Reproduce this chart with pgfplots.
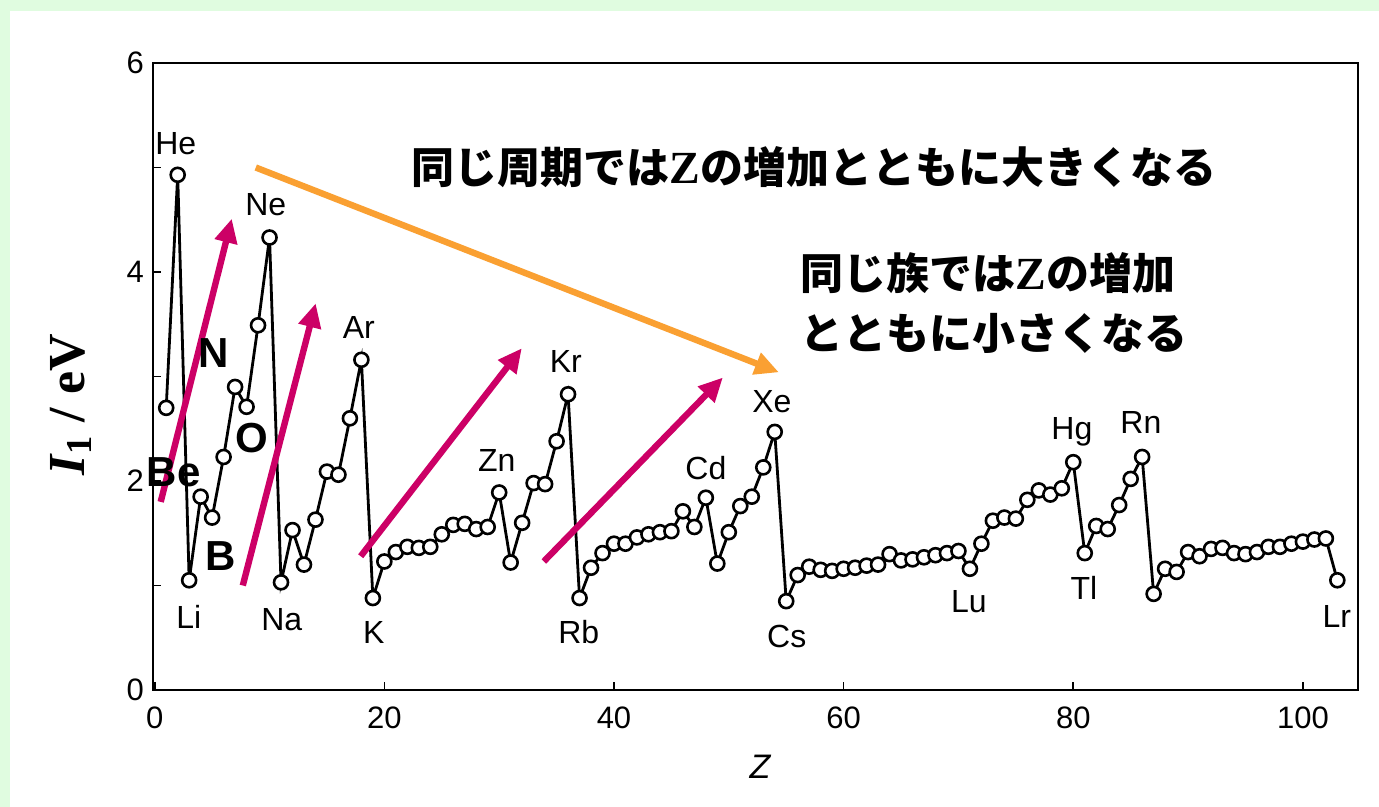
\documentclass[border=0pt]{standalone}
\usepackage{fontspec}
\setmainfont{Liberation Sans}
\newfontfamily\jp{Noto Sans CJK JP}
\newfontfamily\serif{Liberation Serif}
\usepackage{pgfplots}
\pgfplotsset{compat=1.18}
\usetikzlibrary{arrows.meta}
\definecolor{bggreen}{RGB}{224,252,224}
\definecolor{mag}{RGB}{204,0,102}
\definecolor{org}{RGB}{250,160,50}
\begin{document}
\begin{tikzpicture}
\fill[bggreen] (0,0) rectangle (689.5pt,403.5pt);
\fill[white] (5pt,0) rectangle (689.5pt,398pt);
\begin{axis}[
  at={(76.5pt,58.5pt)}, anchor=south west,
  scale only axis, width=602.5pt, height=313.5pt,
  xmin=-0.15, xmax=104.8, ymin=0, ymax=6,
  xtick={0,20,40,60,80,100},
  ytick={0,1,2,3,4,5,6}, yticklabels={0,,2,,4,,6},
  tick pos=left, tick align=inside, major tick length=4pt,
  axis line style={line width=0.8pt},
  every tick/.style={black, line width=0.8pt},
  tick label style={font=\fontsize{15.5}{18}\selectfont},
  /pgf/number format/assume math mode=true,
  xticklabel style={yshift=-5pt},
  yticklabel style={xshift=-1pt},
  clip=false,
]
\addplot[black, line width=1.4pt, mark=*, mark size=3.5pt,
  mark options={fill=white, draw=black, line width=1.3pt}] coordinates {
(1,2.70)(2,4.93)(3,1.05)(4,1.85)(5,1.65)(6,2.23)(7,2.90)(8,2.71)(9,3.49)(10,4.33)
(11,1.03)(12,1.53)(13,1.20)(14,1.63)(15,2.09)(16,2.06)(17,2.60)(18,3.16)
(19,0.88)(20,1.23)(21,1.32)(22,1.37)(23,1.36)(24,1.37)(25,1.49)(26,1.58)(27,1.59)(28,1.54)(29,1.56)(30,1.89)
(31,1.22)(32,1.60)(33,1.98)(34,1.97)(35,2.38)(36,2.83)
(37,0.88)(38,1.17)(39,1.31)(40,1.40)(41,1.40)(42,1.46)(43,1.49)(44,1.51)(45,1.52)(46,1.71)(47,1.56)(48,1.84)
(49,1.21)(50,1.51)(51,1.76)(52,1.85)(53,2.13)(54,2.47)
(55,0.85)(56,1.10)(57,1.18)(58,1.15)(59,1.14)(60,1.16)(61,1.17)(62,1.19)(63,1.20)(64,1.30)(65,1.24)(66,1.25)(67,1.27)(68,1.29)(69,1.31)(70,1.33)(71,1.16)
(72,1.40)(73,1.62)(74,1.65)(75,1.64)(76,1.82)(77,1.91)(78,1.87)(79,1.93)(80,2.18)
(81,1.31)(82,1.57)(83,1.54)(84,1.77)(85,2.02)(86,2.23)
(87,0.92)(88,1.16)(89,1.13)(90,1.32)(91,1.28)(92,1.35)(93,1.36)(94,1.31)(95,1.30)(96,1.32)(97,1.37)(98,1.37)(99,1.40)(100,1.42)(101,1.44)(102,1.45)(103,1.05)
};
% element labels
\begin{scope}[every node/.style={font=\fontsize{16}{19}\selectfont, inner sep=0pt}]
\node at (axis cs:1.83,5.23) {He};
\node at (axis cs:9.67,4.64) {Ne};
\node at (axis cs:17.77,3.47) {Ar};
\node at (axis cs:35.80,3.14) {Kr};
\node at (axis cs:29.79,2.20) {Zn};
\node at (axis cs:53.75,2.76) {Xe};
\node at (axis cs:48.00,2.12) {Cd};
\node at (axis cs:79.88,2.47) {Hg};
\node at (axis cs:85.89,2.56) {Rn};
\node at (axis cs:2.96,0.70) {Li};
\node at (axis cs:11.06,0.67) {Na};
\node at (axis cs:19.08,0.55) {K};
\node at (axis cs:36.93,0.55) {Rb};
\node at (axis cs:55.05,0.51) {Cs};
\node at (axis cs:70.91,0.85) {Lu};
\node at (axis cs:80.92,0.98) {Tl};
\node at (axis cs:102.96,0.70) {Lr};
\end{scope}
% arrows
\draw[mag, line width=3.2pt, -{Triangle[length=12pt,width=11pt]}] (axis cs:0.52,1.80) -- (axis cs:6.71,4.51);
\draw[mag, line width=3.2pt, -{Triangle[length=12pt,width=11pt]}] (axis cs:7.67,1.00) -- (axis cs:14.02,3.70);
\draw[mag, line width=3.2pt, -{Triangle[length=12pt,width=11pt]}] (axis cs:17.94,1.28) -- (axis cs:31.97,3.27);
\draw[mag, line width=3.2pt, -{Triangle[length=12pt,width=11pt]}] (axis cs:33.89,1.23) -- (axis cs:49.48,2.99);
\draw[org, line width=3.2pt, -{Triangle[length=12pt,width=11pt]}] (axis cs:8.80,5.00) -- (axis cs:54.36,3.04);
% bold labels
\begin{scope}[every node/.style={font=\bfseries\fontsize{21}{24}\selectfont, inner sep=0pt}]
\node at (axis cs:5.14,3.22) {N};
\node at (axis cs:8.45,2.41) {O};
\node at (axis cs:1.66,2.08) {Be};
\node at (axis cs:5.75,1.28) {B};
\end{scope}
\end{axis}
% Japanese annotations
\node[font=\jp\bfseries\fontsize{21.5}{25}\selectfont, inner sep=0pt] at (407pt,320pt) {同じ周期では{\serif\bfseries\fontsize{23}{25}\selectfont Z}の増加とともに大きくなる};
\node[font=\jp\bfseries\fontsize{21.5}{25}\selectfont, inner sep=0pt, anchor=west] at (400pt,267pt) {同じ族では{\serif\bfseries\fontsize{23}{25}\selectfont Z}の増加};
\node[font=\jp\bfseries\fontsize{21.5}{25}\selectfont, inner sep=0pt, anchor=west] at (400pt,237pt) {とともに小さくなる};
% axis labels
\node[rotate=90, font=\serif\bfseries\fontsize{26}{30}\selectfont, inner sep=0pt] at (35.5pt,201pt) {\textit{I}\textsubscript{1} / eV};
\node[font=\itshape\fontsize{17}{20}\selectfont, inner sep=0pt] at (380pt,20pt) {Z};
\end{tikzpicture}
\end{document}
